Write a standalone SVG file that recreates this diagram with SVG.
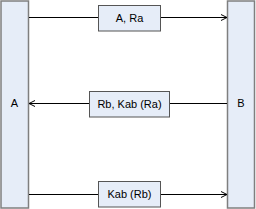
<svg xmlns="http://www.w3.org/2000/svg" width="256" height="209" viewBox="0 0 256 209">
<style>
.bar{fill:#e6edf8;stroke:#7f7f7f;stroke-width:1.5}
.box{fill:#e6edf8;stroke:#555;stroke-width:1}
.ln{stroke:#000;stroke-width:1;fill:none}
text{font-family:"Liberation Sans",Arial,sans-serif;font-size:11px;fill:#000;text-anchor:middle}
</style>
<defs>
<marker id="ah" markerWidth="8" markerHeight="8" refX="7" refY="4" orient="auto" markerUnits="userSpaceOnUse">
<path d="M1,1 L7,4 L1,7" fill="none" stroke="#000" stroke-width="1"/>
</marker>
</defs>
<g id="A"><rect class="bar" x="1" y="1" width="27.5" height="207"/><text x="14.5" y="107">A</text></g>
<g id="B"><rect class="bar" x="227.5" y="1" width="27" height="207"/><text x="241" y="107">B</text></g>
<g id="connectors">
<line class="ln" x1="29" y1="17.5" x2="98" y2="17.5"/>
<line class="ln" x1="161" y1="17.5" x2="227" y2="17.5" marker-end="url(#ah)"/>
<line class="ln" x1="227" y1="103.5" x2="170" y2="103.5"/>
<line class="ln" x1="89" y1="103.5" x2="29" y2="103.5" marker-end="url(#ah)"/>
<line class="ln" x1="29" y1="194.5" x2="98" y2="194.5"/>
<line class="ln" x1="161" y1="194.5" x2="227" y2="194.5" marker-end="url(#ah)"/>
</g>
<g id="m1"><rect class="box" x="98.5" y="5.5" width="62" height="25.5"/><text x="129.5" y="22">A, Ra</text></g>
<g id="m2"><rect class="box" x="89.5" y="91.5" width="80" height="25.5"/><text x="129.5" y="108">Rb, Kab (Ra)</text></g>
<g id="m3"><rect class="box" x="98.5" y="181.5" width="62" height="25.5"/><text x="129.5" y="198">Kab (Rb)</text></g>
</svg>
